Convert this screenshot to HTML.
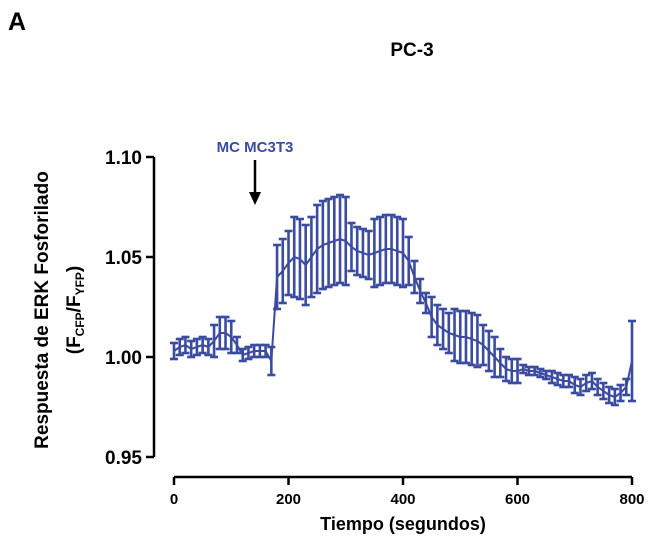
<!DOCTYPE html>
<html><head><meta charset="utf-8"><style>
body{margin:0;background:#fff;font-family:"Liberation Sans",sans-serif}
svg text{font-family:"Liberation Sans",sans-serif;font-weight:bold}
</style></head><body>
<svg id="c" width="650" height="543">
<text x="8" y="30" font-size="25">A</text>
<text x="412" y="56" font-size="19" text-anchor="middle">PC-3</text>
<text x="255" y="152" font-size="15" fill="#3b4ba0" text-anchor="middle">MC MC3T3</text>
<g><line x1="255" y1="160" x2="255" y2="195" stroke="#000" stroke-width="2.5"/><polygon points="249,192 261,192 255,205" fill="#000"/></g>
<g transform="translate(48,310) rotate(-90)">
<text x="0" y="0" font-size="19" text-anchor="middle">Respuesta de ERK Fosforilado</text>
<text x="0" y="32" font-size="19" text-anchor="middle">(F<tspan font-size="12" dy="4">CFP</tspan><tspan dy="-4">/F</tspan><tspan font-size="12" dy="4">YFP</tspan><tspan dy="-4">)</tspan></text>
</g>
<text x="403" y="530" font-size="18" text-anchor="middle">Tiempo (segundos)</text>
<g id="axes"></g><g id="marks"></g>
</svg>
<script>
const times=[];for(let t=0;t<=800;t+=10)times.push(t);
const means=[1.003,1.005,1.006,1.004,1.005,1.006,1.005,1.008,1.012,1.012,1.010,1.006,1.001,1.002,1.003,1.003,1.003,0.998,1.040,1.043,1.047,1.050,1.049,1.046,1.050,1.054,1.056,1.057,1.058,1.059,1.058,1.055,1.053,1.052,1.051,1.052,1.053,1.054,1.054,1.053,1.052,1.048,1.040,1.033,1.027,1.020,1.016,1.014,1.012,1.011,1.010,1.010,1.009,1.008,1.006,1.003,1.000,0.997,0.994,0.993,0.993,0.994,0.993,0.993,0.992,0.991,0.990,0.989,0.988,0.988,0.986,0.985,0.987,0.988,0.985,0.983,0.981,0.980,0.982,0.985,0.998];
const errs=[0.004,0.004,0.004,0.004,0.004,0.004,0.004,0.008,0.008,0.008,0.008,0.004,0.003,0.003,0.003,0.003,0.003,0.007,0.016,0.016,0.016,0.02,0.02,0.02,0.02,0.022,0.022,0.022,0.022,0.022,0.022,0.012,0.012,0.012,0.012,0.017,0.017,0.017,0.017,0.017,0.017,0.012,0.008,0.006,0.005,0.01,0.01,0.01,0.01,0.013,0.013,0.013,0.013,0.013,0.01,0.01,0.01,0.007,0.006,0.006,0.006,0.002,0.002,0.002,0.002,0.002,0.003,0.003,0.003,0.003,0.004,0.004,0.004,0.004,0.004,0.004,0.004,0.004,0.004,0.004,0.02];
const xTicks=[0,200,400,600,800];
const yTicks=[0.95,1.00,1.05,1.10];
const X=v=>174+v*(632-174)/800, Y=v=>457-(v-0.95)*2000;
const NS='http://www.w3.org/2000/svg';
function mk(p,tag,a){const e=document.createElementNS(NS,tag);for(const k in a)e.setAttribute(k,a[k]);p.appendChild(e);return e;}
const ax=document.getElementById('axes'),mg=document.getElementById('marks');
let e=mk(ax,'line',{x1:154,y1:Y(1.10),x2:154,y2:Y(0.95),stroke:'#000','stroke-width':2.5});


e=mk(ax,'line',{x1:X(0),y1:477,x2:X(800),y2:477,stroke:'#000','stroke-width':2.5});


yTicks.forEach(v=>{mk(ax,'line',{x1:146,x2:154,y1:Y(v),y2:Y(v),stroke:'#000','stroke-width':2.5});
const t=mk(ax,'text',{x:142,y:Y(v)+7,'font-size':19,'text-anchor':'end'});t.textContent=v.toFixed(2);

});
xTicks.forEach(v=>{mk(ax,'line',{x1:X(v),x2:X(v),y1:477,y2:485,stroke:'#000','stroke-width':2.5});
const t=mk(ax,'text',{x:X(v),y:504,'font-size':15,'text-anchor':'middle'});t.textContent=v;

});
const col='#3b4ba0';
times.forEach((t,i)=>{const g=mk(mg,'g',{stroke:col,'stroke-width':2.6});


const x=X(t),y1=Y(means[i]+errs[i]),y2=Y(means[i]-errs[i]);
mk(g,'line',{x1:x,x2:x,y1:y1,y2:y2});mk(g,'line',{x1:x-4,x2:x+4,y1:y1,y2:y1});mk(g,'line',{x1:x-4,x2:x+4,y1:y2,y2:y2});});
const p=mk(mg,'polyline',{points:times.map((t,i)=>X(t)+','+Y(means[i])).join(' '),fill:'none',stroke:col,'stroke-width':2});


</script></body></html>
